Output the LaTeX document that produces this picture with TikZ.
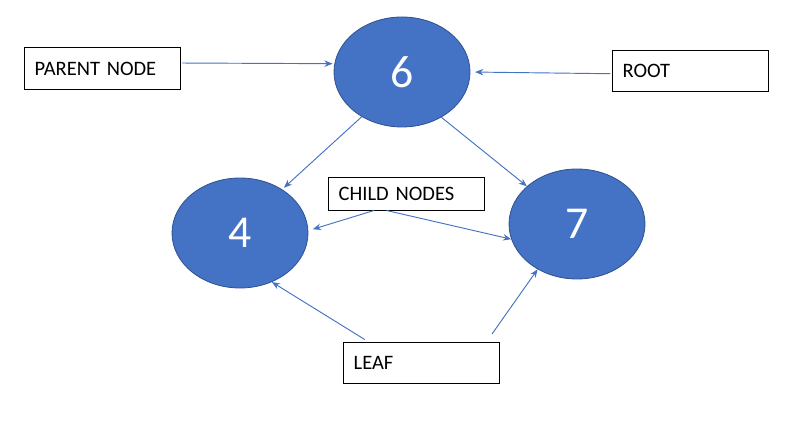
\documentclass[tikz,border=0pt]{standalone}
\usepackage{fontspec}
\setmainfont{Carlito}
\usetikzlibrary{shapes.geometric, arrows.meta}

\definecolor{nodeblue}{HTML}{4472C4}
\definecolor{nodeedge}{HTML}{2F528F}

\tikzset{
    bubble/.style={ellipse, fill=nodeblue, draw=nodeedge, line width=0.7pt,
        minimum width=4.08cm, minimum height=3.3cm, inner sep=0pt,
        text=white, font=\fontsize{39}{39}\selectfont},
    tagbox/.style={draw=black, line width=0.8pt, minimum width=4.68cm,
        minimum height=1.25cm, text width=4.04cm, inner xsep=0.32cm,
        align=left, font=\fontsize{17.5}{18}\selectfont},
    pointer/.style={draw=nodeblue, line width=0.8pt,
        -{Stealth[length=7pt, width=5.5pt]}}
}

\begin{document}
\begin{tikzpicture}[x=0.03cm, y=-0.03cm]
        \useasboundingbox (0,0) rectangle (793,432);

        % tree nodes
        \node[bubble] (six) at (402,72) {6};
        \node[bubble] (four) at (240,233) {4};
        \node[bubble] (seven) at (577,224) {7};

        % labels
        \node[tagbox] (parent) at (102,68.5) {PARENT NODE};
        \node[tagbox] (root) at (690,71) {ROOT};
        \node[tagbox, minimum height=0.99cm] (child) at (406,193.5) {CHILD NODES};
        \node[tagbox] (leaf) at (421,363) {LEAF};

        % edges of the tree
        \draw[pointer, shorten >=2pt] (six.228) -- (four.46);
        \draw[pointer] (six.311) -- (seven.143);

        % pointers from the labels
        \draw[pointer, shorten <=1.5pt, shorten >=1.5pt] (parent.4) -- (six.173);
        \draw[pointer, shorten <=1pt, shorten >=4pt] (root.182) -- (six.0);
        \draw[pointer, shorten >=4pt] (child.208) -- (four.2);
        \draw[pointer] (child.221) -- (seven.193);
        \draw[pointer, shorten <=3.5pt] (leaf.158) -- (four.303);
        \draw[pointer, shorten <=8pt] (leaf.18) -- (seven.229);
    \end{tikzpicture}
\end{document}
